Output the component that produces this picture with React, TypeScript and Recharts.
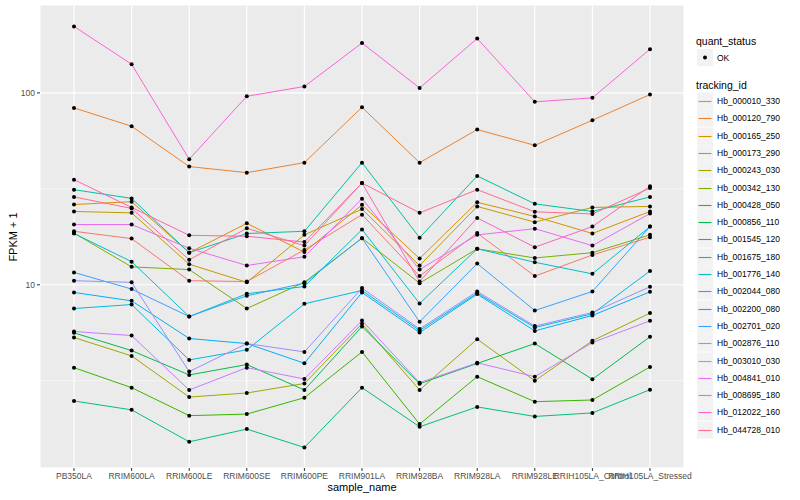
import { CartesianGrid, Line, LineChart, ReferenceLine, XAxis, YAxis } from 'recharts'

const SAMPLES = [
  'PB350LA',
  'RRIM600LA',
  'RRIM600LE',
  'RRIM600SE',
  'RRIM600PE',
  'RRIM901LA',
  'RRIM928BA',
  'RRIM928LA',
  'RRIM928LE',
  'RRIH105LA_Control',
  'RRIH105LA_Stressed',
]

const TRACKING_IDS = [
  'Hb_000010_330',
  'Hb_000120_790',
  'Hb_000165_250',
  'Hb_000173_290',
  'Hb_000243_030',
  'Hb_000342_130',
  'Hb_000428_050',
  'Hb_000856_110',
  'Hb_001545_120',
  'Hb_001675_180',
  'Hb_001776_140',
  'Hb_002044_080',
  'Hb_002200_080',
  'Hb_002701_020',
  'Hb_002876_110',
  'Hb_003010_030',
  'Hb_004841_010',
  'Hb_008695_180',
  'Hb_012022_160',
  'Hb_044728_010',
]

// ggplot hue palette, 20 levels
const COLORS = [
  '#F8766D', '#EA8331', '#D89000', '#C09B00', '#A3A500',
  '#7CAE00', '#39B600', '#00BB4E', '#00BF7D', '#00C1A3',
  '#00BFC4', '#00BAE0', '#00B0F6', '#35A2FF', '#9590FF',
  '#C77CFF', '#E76BF3', '#FA62DB', '#FF62BC', '#FF6C91',
]

// FPKM + 1 per sample
const hb000010 = [19.0, 17.4, 10.5, 10.4, 15.2, 23.2, 11.1, 18.6, 11.1, 14.3, 17.7]
const hb000120 = [83.5, 67, 41.3, 38.4, 43.3, 84.1, 43.3, 64.4, 53.3, 72, 98]
const hb000165 = [26.2, 27.1, 14.7, 20.9, 14.8, 26.1, 13.7, 26.9, 22.7, 18.5, 24.1]
const hb000173 = [24.1, 23.7, 12.8, 10.3, 18.2, 24.8, 12.6, 25.6, 21.2, 25.3, 25.6]
const hb000243 = [5.31, 4.26, 2.6, 2.73, 3.06, 6.26, 2.83, 5.21, 3.16, 5.11, 7.12]
const hb000342 = [18.6, 12.4, 12.0, 7.52, 10.3, 17.5, 10.2, 15.4, 13.8, 14.7, 18.2]
const hb000428 = [3.7, 2.91, 2.08, 2.12, 2.58, 4.47, 1.88, 3.32, 2.46, 2.51, 3.73]
const hb000856 = [5.62, 4.54, 3.39, 3.84, 2.83, 6.06, 3.05, 3.89, 4.94, 3.22, 5.36]
const hb001545 = [2.48, 2.23, 1.52, 1.77, 1.42, 2.91, 1.82, 2.31, 2.06, 2.15, 2.84]
const hb001675 = [31.3, 28.2, 14.7, 18.5, 19.0, 43.3, 17.6, 36.9, 26.4, 24.1, 28.7]
const hb001776 = [18.5, 13.2, 6.83, 8.98, 9.8, 19.4, 7.99, 15.4, 13.1, 11.4, 20.1]
const hb002044 = [7.52, 7.89, 4.06, 4.58, 7.96, 9.34, 5.78, 9.05, 5.99, 7.06, 11.8]
const hb002200 = [9.12, 8.25, 5.25, 4.94, 3.9, 9.12, 5.64, 8.94, 5.75, 6.92, 9.19]
const hb002701 = [11.6, 9.5, 6.83, 8.76, 10.2, 17.5, 6.41, 12.9, 7.34, 9.23, 20.1]
const hb002876 = [10.5, 10.3, 3.53, 4.94, 4.47, 9.61, 5.89, 9.23, 6.09, 7.17, 9.76]
const hb003010 = [5.71, 5.44, 2.83, 3.7, 3.23, 6.51, 3.09, 3.92, 3.32, 5.0, 6.49]
const hb004841 = [20.6, 20.6, 15.5, 12.6, 14.0, 28.1, 12.0, 18.2, 19.6, 16.0, 23.5]
const hb008695 = [222, 141, 45.1, 96, 108, 182, 106, 192, 89.8, 94.2, 169]
const hb012022 = [35.3, 25.3, 18.1, 17.9, 16.7, 33.9, 10.4, 22.3, 15.7, 20.1, 32.6]
const hb044728 = [28.7, 25.0, 13.5, 19.7, 16.0, 33.9, 23.7, 31.3, 24.0, 23.4, 31.9]

const SERIES = [
  hb000010, hb000120, hb000165, hb000173, hb000243,
  hb000342, hb000428, hb000856, hb001545, hb001675,
  hb001776, hb002044, hb002200, hb002701, hb002876,
  hb003010, hb004841, hb008695, hb012022, hb044728,
]

const Y_TICKS = [10, 100]
const Y_MINOR = [3.162, 31.62]
const Y_DOMAIN = [1.11, 287]

const FONT = '"Liberation Sans", Arial, Helvetica, sans-serif'

const chartData = SAMPLES.map((s, i) => {
  const row: Record<string, string | number> = { sample: s }
  TRACKING_IDS.forEach((id, k) => {
    row[id] = SERIES[k][i]
  })
  return row
})

function XTick(props: any) {
  const { x, y, payload } = props
  return (
    <text x={x} y={y + 6} textAnchor="middle" fontSize={8.5} fill="#4D4D4D" fontFamily={FONT}>
      {payload.value}
    </text>
  )
}

function YTick(props: any) {
  const { x, y, payload } = props
  return (
    <text x={x} y={y + 3} textAnchor="end" fontSize={8.5} fill="#4D4D4D" fontFamily={FONT}>
      {payload.value}
    </text>
  )
}

// legend drawn as svg so the key lines stay crisp
function LegendPanel() {
  const left = 697
  const rowH = 17.3
  const firstRow = 101
  return (
    <svg
      width={800}
      height={500}
      style={{ position: 'absolute', left: 0, top: 0, pointerEvents: 'none' }}
      fontFamily={FONT}
    >
      <text x={left - 1} y={44.5} fontSize={10.5} fill="#000">quant_status</text>
      <rect x={left} y={49} width={16} height={17} fill="#F2F2F2" />
      <circle cx={left + 8} cy={57.5} r={2} fill="#000" />
      <text x={left + 20} y={60.5} fontSize={8.5} fill="#000">OK</text>
      <text x={left - 1} y={88.5} fontSize={10.5} fill="#000">tracking_id</text>
      {TRACKING_IDS.map((id, k) => {
        const cy = Math.round(firstRow + k * rowH)
        return (
          <g key={id}>
            <rect x={left} y={cy - 8.5} width={16} height={17} fill="#F2F2F2" />
            <line x1={left + 1.5} x2={left + 14.5} y1={cy + 0.5} y2={cy + 0.5} stroke={COLORS[k]} strokeWidth={1.1} />
            <text x={left + 20} y={cy + 3} fontSize={8.5} fill="#000">{id}</text>
          </g>
        )
      })}
    </svg>
  )
}

export default function App() {
  return (
    <div
      style={{
        position: 'absolute', left: 0, top: 0, width: 800, height: 500,
        background: '#fff', fontFamily: FONT,
      }}
    >
      <LineChart
        width={800}
        height={500}
        data={chartData}
        margin={{ top: 5, right: 116, bottom: 0, left: 0 }}
      >
        <CartesianGrid fill="#EBEBEB" stroke="#FFFFFF" strokeWidth={1.1} />
        {Y_MINOR.map((v) => (
          <ReferenceLine key={v} y={v} stroke="#FFFFFF" strokeWidth={0.55} />
        ))}
        <XAxis
          dataKey="sample"
          interval={0}
          padding={{ left: 34, right: 34 }}
          height={32}
          axisLine={false}
          tickSize={3}
          tickLine={{ stroke: '#333333' }}
          tick={<XTick />}
        />
        <YAxis
          scale="log"
          domain={Y_DOMAIN}
          allowDataOverflow
          ticks={Y_TICKS}
          width={40}
          axisLine={false}
          tickSize={3}
          tickLine={{ stroke: '#333333' }}
          tick={<YTick />}
        />
        {TRACKING_IDS.map((id, k) => (
          <Line
            key={id}
            type="linear"
            dataKey={id}
            stroke={COLORS[k]}
            strokeWidth={1}
            dot={{ r: 2, fill: '#000', stroke: '#000', strokeWidth: 0 }}
            activeDot={false}
            isAnimationActive={false}
          />
        ))}
      </LineChart>
      <div
        style={{
          position: 'absolute', left: 362, top: 481, fontSize: 11,
          transform: 'translateX(-50%)', whiteSpace: 'nowrap',
        }}
      >
        sample_name
      </div>
      <div
        style={{
          position: 'absolute', left: 13, top: 237, fontSize: 11, whiteSpace: 'nowrap',
          transform: 'translate(-50%, -50%) rotate(-90deg)',
        }}
      >
        FPKM + 1
      </div>
      <LegendPanel />
    </div>
  )
}
